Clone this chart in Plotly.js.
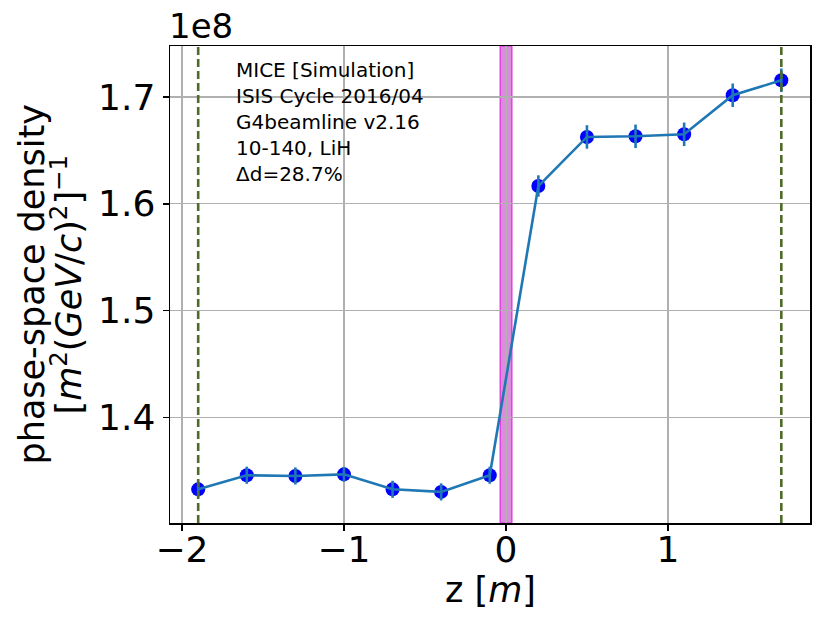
<!DOCTYPE html>
<html>
<head>
<meta charset="utf-8">
<script src="https://cdn.plot.ly/plotly-3.0.1.min.js"></script>
<style>
  html, body { margin: 0; padding: 0; background: #fff; }
  #chart { width: 830px; height: 625px; }
</style>
</head>
<body>
<div id="chart"></div>
<script>
// z positions of the trackers [m] and measured density (units of 1e8)
const zPos = [-1.9, -1.6, -1.3, -1.0, -0.7, -0.4, -0.1, 0.2, 0.5, 0.8, 1.1, 1.4, 1.7];
const density = [1.3329, 1.3461, 1.3454, 1.3469, 1.3329, 1.3305, 1.3461,
                 1.6167, 1.6626, 1.6632, 1.6651, 1.7016, 1.7156];
const densityErr = [0.007, 0.008, 0.008, 0.007, 0.008, 0.008, 0.008,
                    0.010, 0.011, 0.011, 0.011, 0.011, 0.011];
const trackerEnds = [-1.9, 1.7];
const absorber = [-0.035, 0.036];
const infoLines = ['MICE [Simulation]', 'ISIS Cycle 2016/04', 'G4beamline v2.16',
                   '10-140, LiH', '\u0394d=28.7%'];
const yTitleLines = ['phase-space density',
  '[<i>m</i><sup>2</sup>(<i>GeV</i>/<i>c</i>)<sup>2</sup>]<sup>\u22121</sup>'];

const font = 'DejaVu Sans, sans-serif';
const graphDiv = document.getElementById('chart');

const data = [
  {
    x: zPos,
    y: density,
    type: 'scatter',
    mode: 'markers',
    marker: { color: '#0000ff', size: 14 },
    hoverinfo: 'skip'
  },
  {
    x: zPos,
    y: density,
    type: 'scatter',
    mode: 'lines',
    line: { color: '#1f77b4', width: 2.6 },
    error_y: { type: 'data', array: densityErr, visible: true,
               color: '#1f77b4', thickness: 2.6, width: 0 }
  }
];

const shapes = trackerEnds.map(z => ({
  type: 'line', xref: 'x', yref: 'paper', x0: z, x1: z, y0: 0, y1: 1,
  line: { color: '#4f6a2a', width: 2.6, dash: '8px,4px' }, layer: 'above'
}));
shapes.push({
  type: 'rect', xref: 'x', yref: 'paper', x0: absorber[0], x1: absorber[1], y0: 0, y1: 1,
  fillcolor: '#dc8cdc', line: { color: '#dd44dd', width: 1.5 }, layer: 'below'
});

const annotations = [{
  xref: 'paper', yref: 'paper', x: -0.005, y: 0.996, xanchor: 'left', yanchor: 'bottom',
  text: '1e8', showarrow: false, font: { family: font, size: 34, color: '#000' }
}, {
  xref: 'paper', yref: 'paper', x: 0.1, y: 0.978, xanchor: 'left', yanchor: 'top',
  align: 'left', text: infoLines.join('<br>'), showarrow: false,
  font: { family: font, size: 20, color: '#000' }
}, {
  xref: 'paper', yref: 'paper', x: 0.5, y: -0.141, xanchor: 'center', yanchor: 'middle',
  text: 'z [<i>m</i>]', showarrow: false, font: { family: font, size: 35, color: '#000' }
}];
// y title drawn as two rotated lines so their spacing matches
[31, 66].forEach((px, i) => annotations.push({
  xref: 'paper', yref: 'paper', x: (px - 170) / 640, y: 0.5,
  xanchor: 'center', yanchor: 'middle', textangle: -90,
  text: yTitleLines[i], showarrow: false, font: { family: font, size: 35, color: '#000' }
}));

const layout = {
  width: 830,
  height: 625,
  margin: { l: 170, r: 20, t: 46, b: 102 },
  paper_bgcolor: '#fff',
  plot_bgcolor: '#fff',
  showlegend: false,
  font: { family: font, color: '#000' },
  xaxis: {
    range: [-2.074, 1.877],
    tickvals: [-2, -1, 0, 1],
    ticktext: ['\u22122', '\u22121', '0', '1'],
    tickfont: { size: 36 },
    ticklabelstandoff: -12,
    ticks: 'outside', ticklen: 6, tickwidth: 1.5, tickcolor: '#000',
    showgrid: true, gridcolor: '#b0b0b0', gridwidth: 1.2,
    zeroline: false,
    showline: true, linecolor: '#000', linewidth: 1.5, mirror: true
  },
  yaxis: {
    range: [1.3014, 1.7477],
    tickvals: [1.4, 1.5, 1.6, 1.7],
    tickfont: { size: 36 },
    ticks: 'outside', ticklen: 6, tickwidth: 1.5, tickcolor: '#000',
    showgrid: true, gridcolor: '#b0b0b0', gridwidth: 1.2,
    zeroline: false,
    showline: true, linecolor: '#000', linewidth: 1.5, mirror: true
  },
  shapes: shapes,
  annotations: annotations
};

Plotly.newPlot(graphDiv, data, layout, { displayModeBar: false, staticPlot: true });
</script>
</body>
</html>
